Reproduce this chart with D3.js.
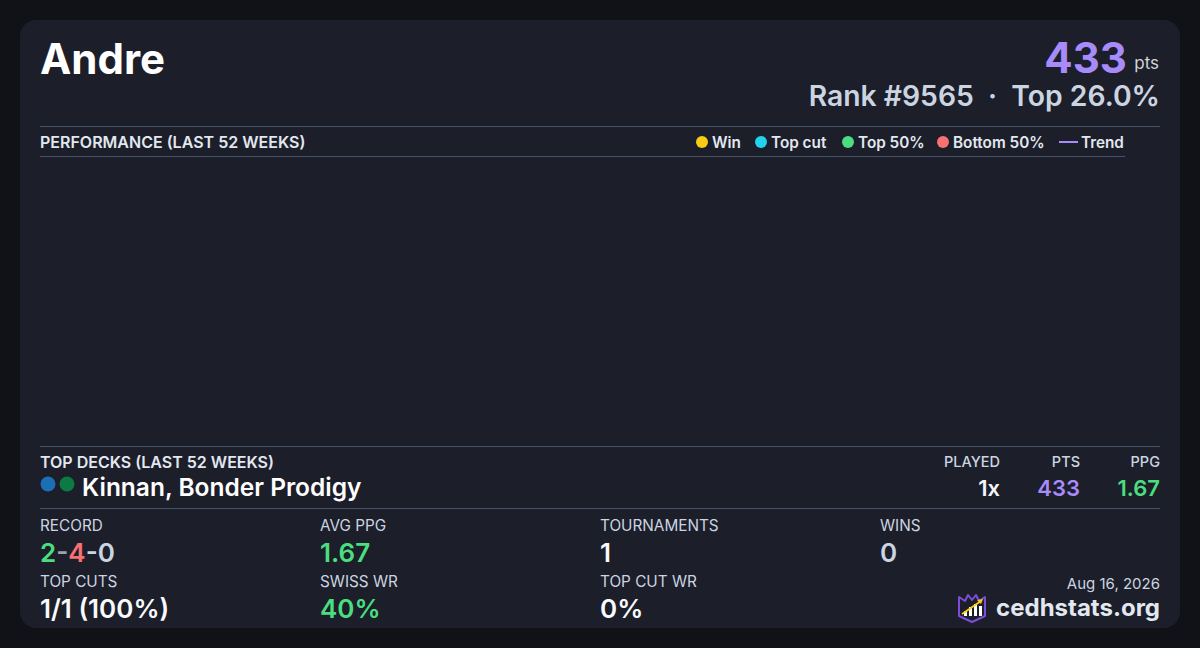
<!DOCTYPE html>
<html>
<head>
<meta charset="utf-8">
<script src="https://cdn.jsdelivr.net/npm/d3@7"></script>
<style>
  html, body { margin: 0; padding: 0; background: #111217; }
  svg { display: block; font-family: Inter, "Noto Sans", sans-serif; }
</style>
</head>
<body>
<div id="card"></div>
<script>
const playerName = "Andre";
const totalPts = 433;
const rankText = "Rank #9565  \u00b7  Top 26.0%";

const legendLabels = ["Win", "Top cut", "Top 50%", "Bottom 50%"];
const legendColors = ["#facc15", "#22d3ee", "#4ade80", "#f87171"];
const trendLabel = "Trend";

// no tournament points are drawn in the last 52 weeks
const perfPoints = [];

const deckName = "Kinnan, Bonder Prodigy";
const deckColors = ["#1a6fb5", "#0b7a43"];
const deckHeaders = ["PLAYED", "PTS", "PPG"];
const deckValues = ["1x", "433", "1.67"];

const statLabels = ["RECORD", "AVG PPG", "TOURNAMENTS", "WINS", "TOP CUTS", "SWISS WR", "TOP CUT WR"];
const statValues = ["2-4-0", "1.67", "1", "0", "1/1 (100%)", "40%", "0%"];
const recordParts = ["2", "-", "4", "-0"];

const dateText = "Aug 16, 2026";
const siteText = "cedhstats.org";

// ---- drawing ----
const W = 1200, H = 648;
const svg = d3.select("#card").append("svg")
    .attr("width", W)
    .attr("height", H);

const purple = "#a78bfa", green = "#4ade80", red = "#f87171";
const soft = "#cbd5e1", rule = "#47536b";

svg.append("rect")
    .attr("x", 20).attr("y", 20)
    .attr("width", 1160).attr("height", 608)
    .attr("rx", 16)
    .attr("fill", "#1c1e29");

// header
svg.append("text")
    .attr("x", 40).attr("y", 74)
    .attr("font-size", 42).attr("font-weight", 700)
    .attr("fill", "#ffffff")
    .text(playerName);

svg.append("text")
    .attr("x", 1159).attr("y", 69)
    .attr("text-anchor", "end")
    .attr("font-size", 17)
    .attr("fill", "#d1d5db")
    .text("pts");

svg.append("text")
    .attr("x", 1127).attr("y", 73)
    .attr("text-anchor", "end")
    .attr("font-size", 42).attr("font-weight", 700)
    .attr("fill", purple)
    .text(totalPts);

svg.append("text")
    .attr("x", 1160).attr("y", 106)
    .attr("text-anchor", "end")
    .attr("font-size", 28.3).attr("font-weight", 600)
    .attr("fill", soft)
    .attr("xml:space", "preserve")
    .style("white-space", "pre")
    .text(rankText);

// rules
const rules = [[40, 1160, 126.5], [40, 1125, 156.5], [40, 1160, 446.5], [40, 1160, 508.5]];
svg.selectAll(".rule")
    .data(rules)
    .enter()
    .append("line")
    .attr("class", "rule")
    .attr("x1", d => d[0]).attr("x2", d => d[1])
    .attr("y1", d => d[2]).attr("y2", d => d[2])
    .attr("stroke", rule)
    .attr("stroke-width", 1);

// performance panel
svg.append("text")
    .attr("x", 40).attr("y", 148)
    .attr("font-size", 16).attr("font-weight", 600)
    .attr("fill", "#e2e8f0")
    .text("PERFORMANCE (LAST 52 WEEKS)");

const legendX = [702, 761, 848, 943];
const legend = svg.append("g").attr("class", "legend");
legendLabels.forEach(function(label, i) {
    legend.append("circle")
        .attr("cx", legendX[i]).attr("cy", 142)
        .attr("r", 6)
        .attr("fill", legendColors[i]);
    legend.append("text")
        .attr("x", legendX[i] + 10).attr("y", 147.5)
        .attr("font-size", 15.3).attr("font-weight", 600)
        .attr("fill", "#e2e8f0")
        .text(label);
});
legend.append("line")
    .attr("x1", 1059).attr("x2", 1078)
    .attr("y1", 142).attr("y2", 142)
    .attr("stroke", purple).attr("stroke-width", 2);
legend.append("text")
    .attr("x", 1081).attr("y", 147.5)
    .attr("font-size", 15.3).attr("font-weight", 600)
    .attr("fill", "#e2e8f0")
    .text(trendLabel);

const plot = { left: 40, right: 1125, top: 166, bottom: 436 };
const x = d3.scaleTime()
    .domain([new Date(2025, 7, 16), new Date(2026, 7, 16)])
    .range([plot.left, plot.right]);
const y = d3.scaleLinear()
    .domain([0, 1])
    .range([plot.bottom, plot.top]);

svg.append("g").attr("class", "points")
    .selectAll("circle")
    .data(perfPoints)
    .enter()
    .append("circle")
    .attr("cx", d => x(d.date))
    .attr("cy", d => y(d.value))
    .attr("r", 5)
    .attr("fill", d => legendColors[d.kind]);

// top decks
svg.append("text")
    .attr("x", 40).attr("y", 468)
    .attr("font-size", 16).attr("font-weight", 600)
    .attr("fill", "#e2e8f0")
    .text("TOP DECKS (LAST 52 WEEKS)");

svg.selectAll(".pip")
    .data(deckColors)
    .enter()
    .append("circle")
    .attr("class", "pip")
    .attr("cx", (d, i) => 48 + i * 19)
    .attr("cy", 484)
    .attr("r", 7.5)
    .attr("fill", d => d);

svg.append("text")
    .attr("x", 82).attr("y", 496)
    .attr("font-size", 24.5).attr("font-weight", 600)
    .attr("fill", "#ffffff")
    .text(deckName);

const deckRight = [1000, 1080, 1160];
const deckValueColors = ["#f1f5f9", purple, green];
deckHeaders.forEach(function(h, i) {
    svg.append("text")
        .attr("x", deckRight[i]).attr("y", 467)
        .attr("text-anchor", "end")
        .attr("font-size", 14.5).attr("font-weight", 500)
        .attr("fill", soft)
        .text(h);
    svg.append("text")
        .attr("x", deckRight[i]).attr("y", 496)
        .attr("text-anchor", "end")
        .attr("font-size", 22).attr("font-weight", 600)
        .attr("fill", deckValueColors[i])
        .text(deckValues[i]);
});

// stats grid
const colX = [40, 320, 600, 880, 40, 320, 600];
const rowY = [0, 0, 0, 0, 1, 1, 1];
const statColors = [null, green, "#f8fafc", soft, "#f8fafc", green, "#f8fafc"];

statLabels.forEach(function(label, i) {
    const top = rowY[i] === 0 ? 531 : 587;
    svg.append("text")
        .attr("x", colX[i]).attr("y", top)
        .attr("font-size", 15.3)
        .attr("fill", soft)
        .text(label);
    const val = svg.append("text")
        .attr("x", colX[i]).attr("y", top + 31)
        .attr("font-size", 26).attr("font-weight", 600);
    if (i === 0) {
        const partColors = [green, "#9ca3af", red, soft];
        recordParts.forEach(function(p, j) {
            val.append("tspan").attr("fill", partColors[j]).text(p);
        });
    } else {
        val.attr("fill", statColors[i]).text(statValues[i]);
    }
});

// footer
svg.append("text")
    .attr("x", 1160).attr("y", 589)
    .attr("text-anchor", "end")
    .attr("font-size", 15)
    .attr("fill", soft)
    .text(dateText);

svg.append("text")
    .attr("x", 1160).attr("y", 616)
    .attr("text-anchor", "end")
    .attr("font-size", 24).attr("font-weight", 700)
    .attr("fill", "#e2e8f0")
    .text(siteText);

// logo: crowned shield with bars and a rising arrow
const logo = svg.append("g").attr("transform", "translate(958,592)");
logo.append("path")
    .attr("d", "M1,5 L7,9 L10,3 L14,8 L18,3 L21,9 L27,5 L27,24 L14,30 L1,24 Z")
    .attr("fill", "#1c1e29")
    .attr("stroke", "#7c4ddb")
    .attr("stroke-width", 2)
    .attr("stroke-linejoin", "round");
const bars = [[6, 19, 5], [11, 15, 9], [16, 12, 12], [21, 14, 10]];
logo.selectAll(".bar")
    .data(bars)
    .enter()
    .append("rect")
    .attr("x", d => d[0]).attr("y", d => d[1])
    .attr("width", 3).attr("height", d => d[2])
    .attr("fill", "#ffffff");
logo.append("line")
    .attr("x1", 4).attr("y1", 22).attr("x2", 23).attr("y2", 9)
    .attr("stroke", "#facc15").attr("stroke-width", 1.8);
logo.append("path")
    .attr("d", "M25,7 L19,8 L23,12 Z")
    .attr("fill", "#facc15");
</script>
</body>
</html>
